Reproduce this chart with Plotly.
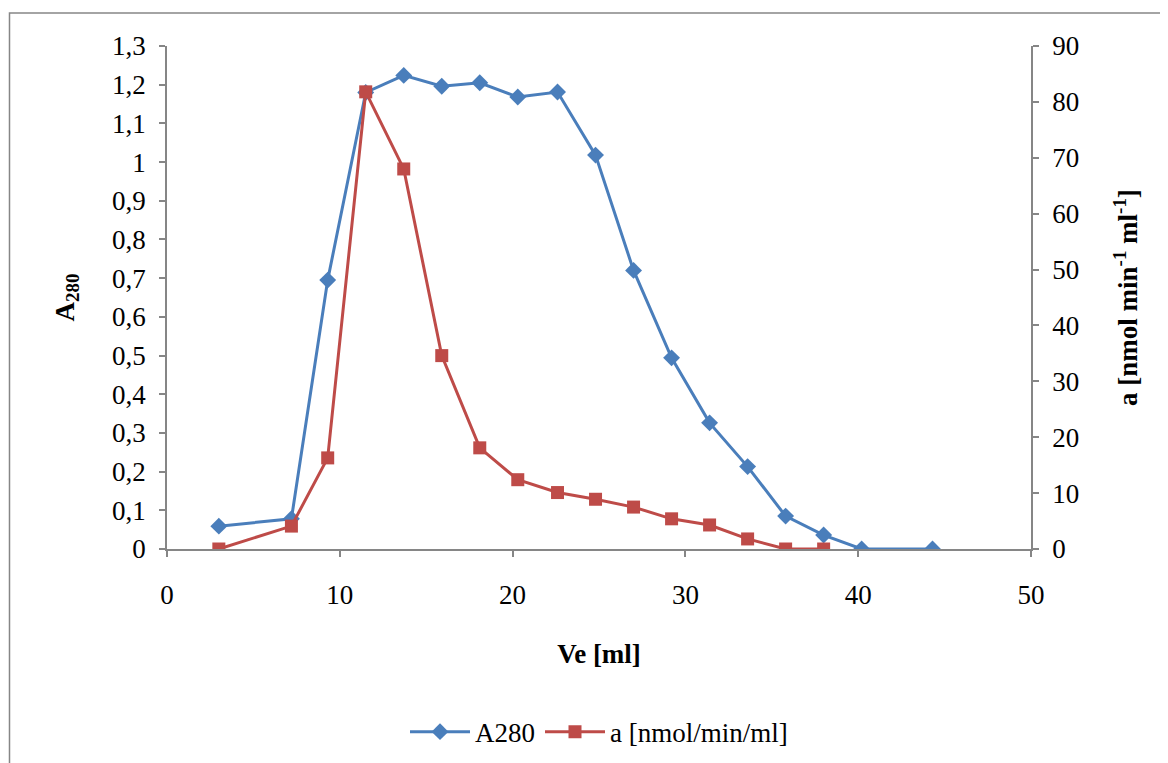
import plotly.graph_objects as go

ve_a280 = [3.0, 7.2, 9.3, 11.5, 13.7, 15.9, 18.1, 20.3, 22.6, 24.8, 27.0, 29.2, 31.4, 33.6, 35.8, 38.0, 40.2, 44.3]
a280 = [0.059, 0.078, 0.695, 1.18, 1.224, 1.196, 1.205, 1.168, 1.181, 1.018, 0.72, 0.494, 0.326, 0.213, 0.085, 0.036, 0.0, 0.0]

ve_act = [3.0, 7.2, 9.3, 11.5, 13.7, 15.9, 18.1, 20.3, 22.6, 24.8, 27.0, 29.2, 31.4, 33.6, 35.8, 38.0]
activity = [0.0, 4.1, 16.3, 81.8, 68.0, 34.6, 18.1, 12.4, 10.1, 8.9, 7.5, 5.4, 4.3, 1.8, 0.0, 0.0]

x_ticks = [0, 10, 20, 30, 40, 50]
y1_ticks = [0, 0.1, 0.2, 0.3, 0.4, 0.5, 0.6, 0.7, 0.8, 0.9, 1.0, 1.1, 1.2, 1.3]
y1_labels = ["0", "0,1", "0,2", "0,3", "0,4", "0,5", "0,6", "0,7", "0,8", "0,9", "1", "1,1", "1,2", "1,3"]
y2_ticks = [0, 10, 20, 30, 40, 50, 60, 70, 80, 90]

BLUE = "#4a7ebb"
RED = "#be4b48"
GREY = "#868686"
FONT = "Liberation Serif, Times New Roman, serif"
FS = 27

fig = go.Figure()
fig.add_trace(go.Scatter(
    x=ve_a280, y=a280, name="A280", mode="lines+markers",
    line=dict(color=BLUE, width=3),
    marker=dict(symbol="diamond", size=13, color=BLUE),
))
fig.add_trace(go.Scatter(
    x=ve_act, y=activity, name="a [nmol/min/ml]", mode="lines+markers",
    line=dict(color=RED, width=3),
    marker=dict(symbol="square", size=13, color=RED),
    yaxis="y2",
))

axis_common = dict(
    showgrid=False, zeroline=False, showline=True, linecolor=GREY, linewidth=1.5,
    ticks="outside", tickcolor=GREY, ticklen=6, tickwidth=1.5,
    tickfont=dict(family=FONT, size=FS, color="black"),
)

fig.update_layout(
    width=1168, height=763,
    margin=dict(l=159, r=145, t=38, b=222),
    paper_bgcolor="white", plot_bgcolor="white",
    font=dict(family=FONT, size=FS, color="black"),
    xaxis=dict(range=[0, 50], tickvals=x_ticks, ticklabelstandoff=15,
               title=dict(text="<b>Ve [ml]</b>", font=dict(size=FS, family=FONT), standoff=35),
               **axis_common),
    yaxis=dict(range=[0, 1.3], tickvals=y1_ticks, ticktext=y1_labels, ticklabelstandoff=8,
               title=dict(text="<b>A<sub>280</sub></b>", font=dict(size=FS, family=FONT), standoff=30),
               **axis_common),
    yaxis2=dict(range=[0, 90], tickvals=y2_ticks, overlaying="y", side="right", ticklabelstandoff=8,
                title=dict(text="<b>a [nmol min<sup>-1</sup> ml<sup>-1</sup>]</b>", font=dict(size=FS, family=FONT), standoff=40),
                **axis_common),
    legend=dict(orientation="h", x=0.5, y=-0.364, xanchor="center", yanchor="middle",
                font=dict(size=FS, family=FONT), itemwidth=60, tracegroupgap=0),
    showlegend=True,
    shapes=[dict(type="rect", xref="paper", yref="paper",
                 x0=-0.1823, x1=1.3, y0=-0.6, y1=1.0656,
                 line=dict(color=GREY, width=1.5), fillcolor="rgba(0,0,0,0)", layer="below")],
)

fig.write_html("out.html")
